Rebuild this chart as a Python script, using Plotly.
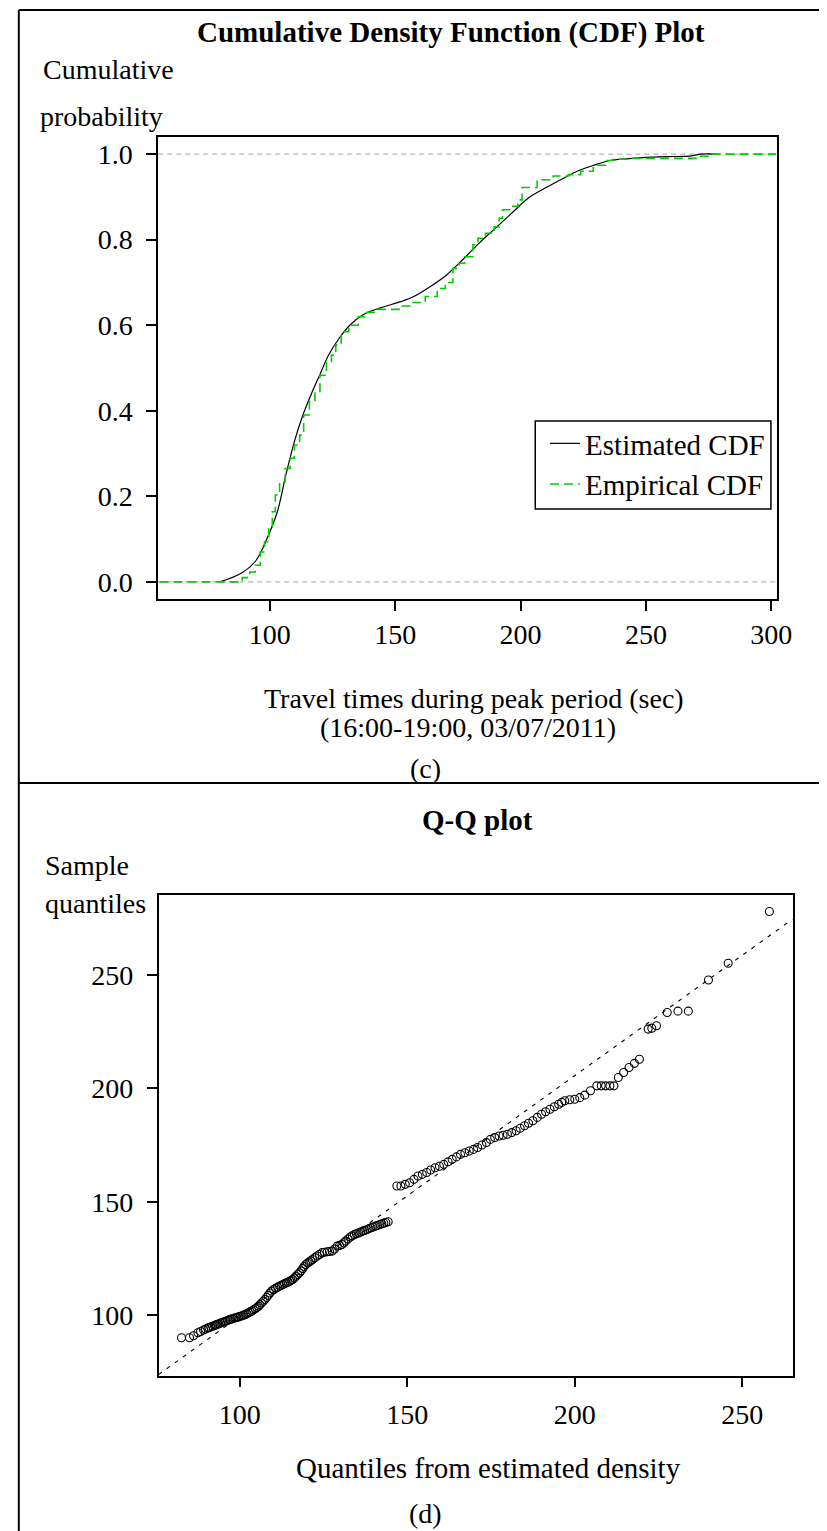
import plotly.graph_objects as go

W, H = 827, 1531
FONT = "Liberation Serif, Times New Roman, serif"

# ---------------- Panel (c): CDF plot data ----------------
cdf_x = [80, 84, 89.4, 94.5, 98.8, 103, 106.4, 109.8, 113.2, 116.6, 120, 123.4,
         127.6, 131.9, 137, 143.8, 152.2, 157.4, 163.9, 170.4, 176.9, 183.5, 190,
         196.5, 203, 209.6, 216, 222.6, 229.2, 235.7, 242, 248.7, 258, 268.3, 272, 278]
cdf_p = [0.0, 0.008, 0.023, 0.05, 0.10, 0.164, 0.25, 0.328, 0.39, 0.44, 0.485, 0.53,
         0.569, 0.60, 0.624, 0.64, 0.655, 0.667, 0.69, 0.717, 0.753, 0.792, 0.827,
         0.862, 0.897, 0.92, 0.94, 0.96, 0.974, 0.985, 0.989, 0.992, 0.994, 0.996, 1.0, 1.0]

ecdf_x = [56, 89.0, 92.0, 94.2, 96.2, 97.9, 99.6, 101.0, 102.2, 103.9, 106.1, 108.1,
          109.8, 111.9, 113.5, 115.8, 118.0, 120.0, 122.6, 124.6, 126.3, 128.5, 131.5,
          135.3, 137.8, 142.1, 152.2, 156.7, 162.0, 166.8, 170.0, 173.0, 175.5, 177.7,
          181.0, 183.0, 186.0, 189.5, 191.5, 192.8, 196.4, 198.9, 200.6, 206.6, 213.0,
          219.0, 224.0, 229.0, 234.0, 237.0, 243.0, 270.0, 276.0, 302.0]
ecdf_p = [0, 0.010, 0.023, 0.039, 0.070, 0.094, 0.129, 0.164, 0.203, 0.234, 0.265, 0.289,
          0.320, 0.343, 0.390, 0.421, 0.445, 0.483, 0.515, 0.530, 0.554, 0.585, 0.600,
          0.620, 0.630, 0.637, 0.645, 0.653, 0.667, 0.686, 0.700, 0.733, 0.745, 0.760,
          0.788, 0.803, 0.815, 0.830, 0.850, 0.870, 0.878, 0.893, 0.922, 0.940, 0.949,
          0.952, 0.960, 0.974, 0.985, 0.988, 0.990, 0.995, 1.0, 1.0]

cdf_xticks = [100, 150, 200, 250, 300]
cdf_yticks = [0.0, 0.2, 0.4, 0.6, 0.8, 1.0]
cdf_ytick_text = ["0.0", "0.2", "0.4", "0.6", "0.8", "1.0"]
cdf_ref_levels = [0.0, 1.0]

# ---------------- Panel (d): Q-Q plot data ----------------
qq_theoretical = [
    82.6, 85.0, 87.5, 89.2, 90.5, 91.9, 93.0, 93.8, 94.8, 95.8, 96.8, 97.7, 98.7, 99.7,
    100.7, 101.7, 102.6, 103.6, 104.6, 105.6, 106.5, 107.5, 108.5, 109.5, 110.7, 111.9,
    112.9, 113.9, 114.9, 115.8, 116.8, 117.8, 118.8, 119.7, 120.7, 121.7, 123.1, 124.6,
    126.1, 127.6, 129.1, 130.5, 131.6, 133.0, 134.2, 135.5, 136.7, 138.0, 139.2, 140.5,
    141.8, 143.0, 144.3,
    146.9, 148.1, 149.4, 150.7, 152.0, 153.2, 154.5, 155.8, 157.0, 158.3, 159.6, 160.9,
    162.2, 163.4, 164.7, 165.9, 167.2, 168.5, 169.8, 171.0, 172.3, 173.6, 174.8, 176.1,
    177.4, 178.6, 179.9, 181.2, 182.5, 183.7, 185.0, 186.2, 187.5, 188.8, 190.1, 191.3,
    192.6, 193.9, 195.2, 196.1, 197.0, 198.5, 200.0, 201.5, 203.0, 204.7, 206.6, 207.9,
    209.2, 210.5, 211.7, 213.0, 214.6, 216.2, 217.8, 219.3,
    221.9, 223.0, 224.4, 227.6, 230.8, 233.9, 239.9, 245.8, 258.1]
qq_sample = [
    90.1, 90.1, 92.3, 93.5, 94.4, 95.2, 95.8, 96.3, 96.9, 97.4, 98.0, 98.5, 98.9, 99.3,
    99.8, 100.4, 101.1, 101.9, 102.9, 104.0, 105.4, 107.0, 108.8, 110.7, 111.9, 112.9,
    113.6, 114.3, 115.0, 115.8, 117.2, 118.7, 120.6, 122.4, 123.5, 124.6, 126.1, 127.6,
    128.0, 128.3, 130.5, 131.2, 132.7, 134.5, 135.6, 136.3, 137.1, 137.8, 138.6, 139.3,
    140.0, 140.6, 141.2,
    157.0, 157.0, 157.7, 158.4, 159.9, 161.4, 162.1, 162.9, 164.0, 165.0, 165.7, 166.5,
    167.6, 168.7, 169.8, 170.9, 171.6, 172.4, 173.1, 173.9, 175.0, 176.1, 177.5, 178.3,
    179.0, 179.3, 179.8, 180.5, 181.3, 182.4, 183.5, 184.6, 185.7, 187.2, 188.6, 189.7,
    190.8, 191.9, 193.0, 193.8, 194.5, 195.0, 195.2, 195.9, 197.0, 198.9, 201.1, 201.1,
    201.1, 201.1, 201.1, 204.8, 207.0, 209.2, 211.0, 212.8,
    226.1, 226.5, 227.6, 233.4, 234.0, 234.0, 247.7, 255.1, 277.9]

# the dense band of observations in the lower range (read between the points above)
qq_theoretical_dense = [
    86.2, 88.3, 89.8, 90.8, 91.4, 92.4, 92.8, 93.4, 94.3, 95.3, 96.3, 97.2, 98.2, 99.2,
    100.2, 101.2, 102.1, 103.1, 104.1, 105.1, 106.0, 107.0, 108.0, 109.0, 110.1, 111.3,
    112.4, 113.4, 114.4, 115.3, 116.3, 117.3, 118.3, 119.2, 120.2, 121.2, 122.4, 123.8,
    125.3, 126.8, 128.3, 129.8, 131.1, 132.3, 133.6, 134.8, 136.1, 137.3, 138.6, 139.8,
    141.1, 142.4, 143.6]
qq_sample_dense = [
    91.0, 92.9, 94.0, 94.6, 94.9, 95.5, 95.7, 96.0, 96.6, 97.1, 97.7, 98.2, 98.7, 99.1,
    99.6, 100.1, 100.7, 101.5, 102.4, 103.4, 104.7, 106.2, 107.9, 109.8, 111.3, 112.4,
    113.2, 114.0, 114.6, 115.4, 116.5, 118.0, 119.6, 121.5, 123.0, 124.0, 125.4, 126.8,
    127.8, 128.1, 129.2, 130.8, 132.0, 133.6, 135.0, 135.9, 136.7, 137.4, 138.2, 138.9,
    139.6, 140.3, 140.9]

qq_ticks = [100, 150, 200, 250]
ref_intercept = -6.4
ref_slope = 1.06

# ---------------- geometry helpers ----------------
def px(x):
    return x / W


def py(y):
    return 1 - y / H


cdf_xrange = [55.5, 302.2]
cdf_yrange = [-0.04, 1.04]
qq_xrange = [75.75, 265.0]
qq_yrange = [73.4, 285.3]

fig = go.Figure()

# reference grey dashed lines at 0 and 1
for lvl in cdf_ref_levels:
    fig.add_trace(go.Scatter(x=cdf_xrange, y=[lvl, lvl], mode="lines",
                             line=dict(color="#b4b4b4", width=1.3, dash="5px,4px"),
                             showlegend=False, hoverinfo="skip", xaxis="x", yaxis="y"))

fig.add_trace(go.Scatter(x=cdf_x, y=cdf_p, mode="lines", name="Estimated CDF",
                         line=dict(color="black", width=1.2, shape="spline"),
                         xaxis="x", yaxis="y"))
fig.add_trace(go.Scatter(x=ecdf_x, y=ecdf_p, mode="lines", name="Empirical CDF",
                         line=dict(color="#00cc00", width=1.6, dash="9px,5px", shape="hv"),
                         xaxis="x", yaxis="y"))

# Q-Q reference line
ref_x = qq_xrange
ref_y = [ref_intercept + ref_slope * v for v in ref_x]
fig.add_trace(go.Scatter(x=ref_x, y=ref_y, mode="lines", showlegend=False,
                         line=dict(color="black", width=1.1, dash="4px,6px"),
                         xaxis="x2", yaxis="y2"))
qq_marker = dict(symbol="circle-open", size=8, color="black", line=dict(width=1.1, color="black"))
fig.add_trace(go.Scatter(x=qq_theoretical_dense, y=qq_sample_dense, mode="markers",
                         showlegend=False, marker=qq_marker, xaxis="x2", yaxis="y2"))
fig.add_trace(go.Scatter(x=qq_theoretical, y=qq_sample, mode="markers", showlegend=False,
                         marker=qq_marker, xaxis="x2", yaxis="y2"))

axis_common = dict(showline=True, mirror=True, linecolor="black", linewidth=1.5,
                   ticks="outside", ticklen=10, tickwidth=1.5, tickcolor="black",
                   showgrid=False, zeroline=False,
                   tickfont=dict(family=FONT, size=28, color="black"))

fig.update_layout(
    width=W, height=H,
    margin=dict(l=0, r=0, t=0, b=0),
    paper_bgcolor="white", plot_bgcolor="white",
    font=dict(family=FONT, size=28, color="black"),
    xaxis=dict(domain=[px(153), px(783)], range=cdf_xrange, tickvals=cdf_xticks,
               anchor="y", ticklabelstandoff=0, **axis_common),
    yaxis=dict(domain=[py(591), py(129)], range=cdf_yrange, tickvals=cdf_yticks,
               ticktext=cdf_ytick_text, anchor="x", ticklabelstandoff=8, **axis_common),
    xaxis2=dict(domain=[px(153.3), px(799)], range=qq_xrange, tickvals=qq_ticks,
                anchor="y2", ticklabelstandoff=3, **axis_common),
    yaxis2=dict(domain=[py(1367.7), py(886.7)], range=qq_yrange, tickvals=qq_ticks,
                anchor="x2", ticklabelstandoff=8, **axis_common),
    legend=dict(x=px(547), y=py(410), xanchor="left", yanchor="top",
                borderwidth=0, bgcolor="rgba(0,0,0,0)",
                font=dict(family=FONT, size=29, color="black"),
                itemwidth=30, tracegroupgap=0),
    showlegend=True,
)

ann = []


def text(t, x, y, size=28, bold=False, xanchor="center"):
    ann.append(dict(text=("<b>%s</b>" % t) if bold else t, x=px(x), y=py(y),
                    xref="paper", yref="paper", xanchor=xanchor, yanchor="middle",
                    showarrow=False, font=dict(family=FONT, size=size, color="black")))


text("Cumulative Density Function (CDF) Plot", 451, 25, size=29, bold=True)
text("Cumulative", 34, 62, xanchor="left")
text("probability", 31, 108, xanchor="left")
text("Travel times during peak period (sec)", 475, 691, size=28)
text("(16:00-19:00, 03/07/2011)", 469, 720, size=28)
text("(c)", 425, 760)

text("Q-Q plot", 478, 812, size=29, bold=True)
text("Sample", 36, 857, xanchor="left")
text("quantiles", 36, 895, xanchor="left")
text("Quantiles from estimated density", 489, 1460, size=29)
text("(d)", 425, 1505)

fig.update_layout(annotations=ann)

# outer frame lines (table borders) and legend box
frame = [
    dict(x0=px(11), x1=px(11), y0=py(2), y1=py(H)),
    dict(x0=px(11), x1=px(W), y0=py(2), y1=py(2)),
    dict(x0=px(11), x1=px(W), y0=py(775), y1=py(775)),
]
shapes = [dict(type="line", xref="paper", yref="paper",
               line=dict(color="black", width=2), **f) for f in frame]
shapes.append(dict(type="rect", xref="paper", yref="paper",
                   x0=px(537), x1=px(777), y0=py(501), y1=py(413),
                   line=dict(color="black", width=1.5), fillcolor="rgba(0,0,0,0)"))
fig.update_layout(shapes=shapes)

fig.write_html("out.html")
